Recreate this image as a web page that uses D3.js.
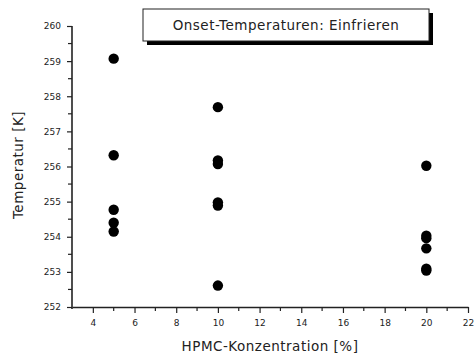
<!DOCTYPE html>
<html>
<head>
<meta charset="utf-8">
<script src="https://cdn.jsdelivr.net/npm/d3@7"></script>
<style>
  html, body { margin: 0; padding: 0; background: #fff; }
  text { font-family: "DejaVu Sans", Verdana, sans-serif; fill: #222; }
</style>
</head>
<body>
<svg id="chart" width="476" height="356"></svg>
<script>
// Onset temperatures on freezing vs. HPMC concentration
const concentrations = [5, 5, 5, 5, 5,
                        10, 10, 10, 10, 10, 10,
                        20, 20, 20, 20, 20, 20];
const temperatures = [259.07, 256.32, 254.77, 254.40, 254.15,
                      257.69, 256.17, 256.07, 254.98, 254.89, 252.61,
                      256.02, 254.03, 253.96, 253.67, 253.09, 253.04];
const xTicks = [4, 6, 8, 10, 12, 14, 16, 18, 20, 22];
const yTicks = [252, 253, 254, 255, 256, 257, 258, 259, 260];
const title = "Onset-Temperaturen: Einfrieren";
const xLabel = "HPMC-Konzentration [%]";
const yLabel = "Temperatur [K]";

const svg = d3.select("#chart");
const x = d3.scaleLinear().domain([3, 22]).range([72, 468]);
const y = d3.scaleLinear().domain([252, 260]).range([307, 26]);

// minor ticks
const xMinor = d3.range(5, 22, 2);
const yMinor = d3.range(252.5, 260, 1);

const axisColor = "#222";

// x axis
const gx = svg.append("g").attr("transform", `translate(0,${y(252)})`);
gx.call(d3.axisBottom(x).tickValues(xTicks).tickSize(6).tickSizeOuter(0).tickPadding(7));
gx.append("g").selectAll("line").data(xMinor).join("line")
  .attr("x1", d => x(d)).attr("x2", d => x(d)).attr("y1", 0).attr("y2", 4)
  .attr("stroke", axisColor).attr("stroke-width", 1.2);
gx.select(".domain").attr("stroke", axisColor).attr("stroke-width", 1.6);
gx.selectAll(".tick line").attr("stroke", axisColor).attr("stroke-width", 1.2);
gx.selectAll(".tick text").style("font-family", "DejaVu Sans").style("font-size", "9px").attr("fill", "#333");

// y axis
const gy = svg.append("g").attr("transform", `translate(${x(3)},0)`);
gy.call(d3.axisLeft(y).tickValues(yTicks).tickSize(5).tickSizeOuter(0).tickPadding(6));
gy.append("g").selectAll("line").data(yMinor).join("line")
  .attr("y1", d => y(d)).attr("y2", d => y(d)).attr("x1", 0).attr("x2", -4)
  .attr("stroke", axisColor).attr("stroke-width", 1.2);
gy.select(".domain").attr("stroke", axisColor).attr("stroke-width", 1.6)
  .attr("d", `M0,${y(260)}V${y(252) + 2}`);
gy.selectAll(".tick line").attr("stroke", axisColor).attr("stroke-width", 1.2);
gy.selectAll(".tick text").style("font-family", "DejaVu Sans").style("font-size", "9px").attr("fill", "#333");

// data points
svg.append("g").selectAll("circle")
  .data(concentrations.map((c, i) => ({ c, t: temperatures[i] })))
  .join("circle")
  .attr("cx", d => x(d.c))
  .attr("cy", d => y(d.t))
  .attr("r", 5.2)
  .attr("fill", "#000");

// axis titles
svg.append("text")
  .attr("x", 270).attr("y", 351)
  .attr("text-anchor", "middle")
  .style("font-size", "13.5px")
  .style("letter-spacing", "0.5px")
  .text(xLabel);

svg.append("text")
  .attr("transform", `translate(23,165) rotate(-90)`)
  .attr("text-anchor", "middle")
  .style("font-size", "13.5px")
  .style("letter-spacing", "0.5px")
  .text(yLabel);

// title box with drop shadow
const box = { x: 143, y: 9, w: 286, h: 32, off: 4 };
svg.append("rect")
  .attr("x", box.x + box.off).attr("y", box.y + box.off)
  .attr("width", box.w).attr("height", box.h)
  .attr("fill", "#000");
svg.append("rect")
  .attr("x", box.x).attr("y", box.y)
  .attr("width", box.w).attr("height", box.h)
  .attr("fill", "#fff").attr("stroke", "#222").attr("stroke-width", 1);
svg.append("text")
  .attr("x", box.x + box.w / 2).attr("y", box.y + 21)
  .attr("text-anchor", "middle")
  .style("font-size", "13.5px")
  .style("letter-spacing", "0.5px")
  .text(title);
</script>
</body>
</html>
